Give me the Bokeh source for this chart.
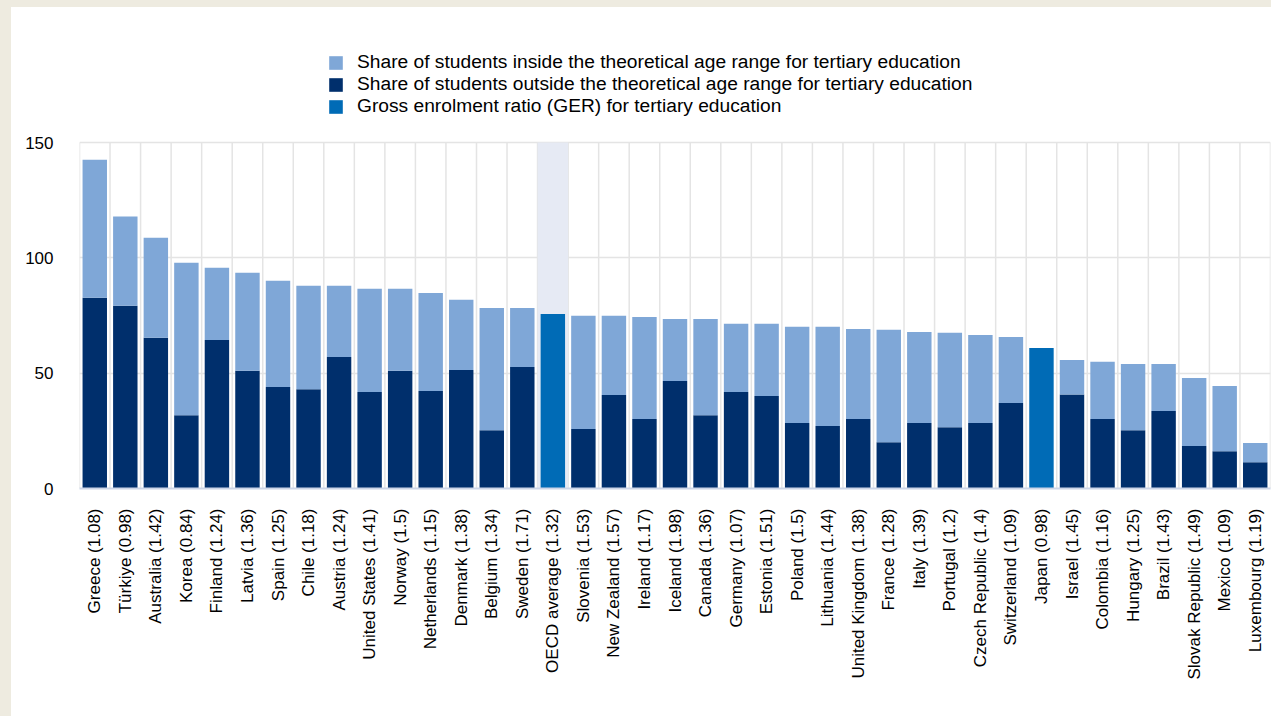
import numpy as np
from bokeh.plotting import figure
from bokeh.layouts import column
from bokeh.models import (ColumnDataSource, Range1d, FixedTicker, Legend,
                          LegendItem, BoxAnnotation)
from bokeh.embed import file_html
from bokeh.resources import INLINE

countries = [
    "Greece (1.08)", "Türkiye (0.98)", "Australia (1.42)", "Korea (0.84)",
    "Finland (1.24)", "Latvia (1.36)", "Spain (1.25)", "Chile (1.18)",
    "Austria (1.24)", "United States (1.41)", "Norway (1.5)",
    "Netherlands (1.15)", "Denmark (1.38)", "Belgium (1.34)", "Sweden (1.71)",
    "OECD average (1.32)", "Slovenia (1.53)", "New Zealand (1.57)",
    "Ireland (1.17)", "Iceland (1.98)", "Canada (1.36)", "Germany (1.07)",
    "Estonia (1.51)", "Poland (1.5)", "Lithuania (1.44)",
    "United Kingdom (1.38)", "France (1.28)", "Italy (1.39)",
    "Portugal (1.2)", "Czech Republic (1.4)", "Switzerland (1.09)",
    "Japan (0.98)", "Israel (1.45)", "Colombia (1.16)", "Hungary (1.25)",
    "Brazil (1.43)", "Slovak Republic (1.49)", "Mexico (1.09)",
    "Luxembourg (1.19)",
]

# Gross enrolment ratio (total bar height)
ger_total = [
    142.5, 117.9, 108.7, 97.9, 95.7, 93.5, 90.1, 87.9, 87.9, 86.6, 86.6,
    84.8, 81.8, 78.3, 78.3, 75.7, 74.9, 74.9, 74.4, 73.5, 73.5, 71.4, 71.4,
    70.1, 70.1, 69.2, 68.8, 67.9, 67.5, 66.6, 65.7, 60.9, 55.7, 54.9, 54.0,
    54.0, 47.9, 44.4, 19.7,
]

# Share of students outside the theoretical age range (None = no breakdown)
outside_share = [
    82.7, 79.2, 65.3, 31.8, 64.4, 51.0, 44.0, 43.0, 57.0, 41.8, 51.0,
    42.3, 51.4, 25.3, 52.7, None, 25.8, 40.5, 30.1, 46.6, 31.8, 41.8, 40.1,
    28.4, 27.1, 30.1, 20.1, 28.4, 26.6, 28.4, 37.1, None, 40.8, 30.1, 25.3,
    33.6, 18.4, 16.2, 11.4,
]

highlight = "OECD average (1.32)"
y_ticks = [0, 50, 100, 150]

C_IN = "#7FA7D7"
C_OUT = "#002F6C"
C_GER = "#006BB6"
GRID = "#E4E4E4"
FONT = "Liberation Sans"

n = len(countries)
xc = [i + 0.5 for i in range(n)]
y_max = y_ticks[-1]

# layout (pixels); the figure sits on a beige page, offset by PAD_L / PAD_T
PAD_L, PAD_T = 11, 7
W, H = 1271 - PAD_L, 716 - PAD_T
B_LEFT, B_RIGHT, B_TOP, B_BOTTOM = 79 - PAD_L, 1, 30 - PAD_T, 228
plot_px = 346  # pixels between 0 and the top tick
frame_px = H - B_TOP - B_BOTTOM
y_top = y_max * frame_px / plot_px  # headroom above the chart for the legend

split_idx = [i for i in range(n) if outside_share[i] is not None]
ger_idx = [i for i in range(n) if outside_share[i] is None]

src_split = ColumnDataSource(dict(
    x=[xc[i] for i in split_idx],
    total=[ger_total[i] for i in split_idx],
    outside=[outside_share[i] for i in split_idx],
))
src_ger = ColumnDataSource(dict(
    x=[xc[i] for i in ger_idx],
    total=[ger_total[i] for i in ger_idx],
))

p = figure(width=W, height=H, output_backend="svg", toolbar_location=None,
           x_range=Range1d(0, n), y_range=Range1d(0, y_top),
           min_border_left=B_LEFT, min_border_right=B_RIGHT,
           min_border_top=B_TOP, min_border_bottom=B_BOTTOM,
           styles={"background-color": "white"})
p.outline_line_color = None
p.background_fill_color = "white"
p.border_fill_color = "white"

hi = countries.index(highlight)
p.add_layout(BoxAnnotation(left=hi, right=hi + 1, bottom=0, top=y_max,
                           fill_color="#E6EAF4", fill_alpha=1,
                           line_color=None, level="underlay"))

# vertical separators between categories (only up to the top tick)
sep = list(range(n + 1))
p.segment(x0=sep, x1=sep, y0=[0] * len(sep), y1=[y_max] * len(sep),
          line_color=GRID, line_width=1.5, level="underlay")

BW = 0.8
r_out = p.vbar(x="x", bottom=0, top="outside", width=BW, source=src_split,
               fill_color=C_OUT, line_color=None)
r_in = p.vbar(x="x", bottom="outside", top="total", width=BW, source=src_split,
              fill_color=C_IN, line_color=None)
r_ger = p.vbar(x="x", bottom=0, top="total", width=BW, source=src_ger,
               fill_color=C_GER, line_color=None)

# grids
p.xgrid.grid_line_color = None
p.ygrid.ticker = FixedTicker(ticks=y_ticks)
p.ygrid.grid_line_color = GRID
p.ygrid.grid_line_width = 1.5

# x axis
p.xaxis.ticker = FixedTicker(ticks=xc)
p.xaxis.major_label_overrides = {xc[i]: countries[i] for i in range(n)}
p.xaxis.major_label_orientation = np.pi / 2
p.xaxis.major_tick_line_color = None
p.xaxis.minor_tick_line_color = None
p.xaxis.axis_line_color = "#CCD5E8"
p.xaxis.axis_line_width = 2
p.xaxis.major_label_standoff = 14
p.xaxis.major_label_text_font = FONT
p.xaxis.major_label_text_font_size = "17px"
p.xaxis.major_label_text_color = "#000000"

# y axis
p.yaxis.ticker = FixedTicker(ticks=y_ticks)
p.yaxis.axis_line_color = None
p.yaxis.major_tick_line_color = None
p.yaxis.minor_tick_line_color = None
p.yaxis.major_label_standoff = 20
p.yaxis.major_label_text_font = FONT
p.yaxis.major_label_text_font_size = "17px"
p.yaxis.major_label_text_color = "#000000"

legend = Legend(items=[
    LegendItem(label="Share of students inside the theoretical age range for tertiary education", renderers=[r_in]),
    LegendItem(label="Share of students outside the theoretical age range for tertiary education", renderers=[r_out]),
    LegendItem(label="Gross enrolment ratio (GER) for tertiary education", renderers=[r_ger]),
], location=(248, 371), orientation="vertical", glyph_width=17, glyph_height=17,
    label_height=22, label_standoff=13, spacing=0, padding=5, margin=0,
    border_line_color=None, background_fill_alpha=0,
    label_text_font=FONT, label_text_font_size="19.2px",
    label_text_color="#000000")
p.add_layout(legend, "center")

root = column(p, styles={"background-color": "#EEEBE0",
                         "padding-left": f"{PAD_L}px",
                         "padding-top": f"{PAD_T}px"})

open("out.html", "w").write(file_html(root, INLINE))
